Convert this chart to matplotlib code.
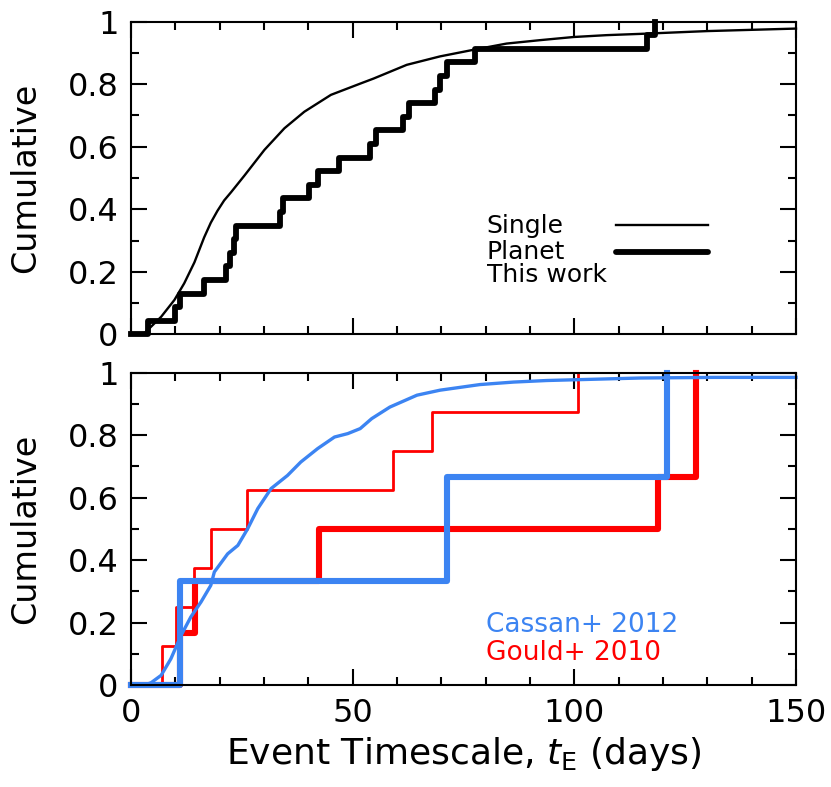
import numpy as np
import matplotlib
matplotlib.use('Agg')
import matplotlib.pyplot as plt
from matplotlib.lines import Line2D
from matplotlib.ticker import MultipleLocator, FormatStrFormatter

# Datos (tE en dias)
planet_te = [3.8, 10.0, 11.1, 16.5, 21.4, 22.4, 23.3, 23.7, 33.7, 34.2, 40.2, 42.1,
             47.0, 53.8, 55.3, 61.4, 62.6, 68.6, 69.7, 71.2, 77.6, 116.3, 118.2]

single_te = [0, 3.0, 6.8, 9.8, 12.0, 14.3, 16.5, 18.0, 19.5, 21.0, 22.6, 25.6, 30.1, 34.6, 39.1,
             45.1, 51.9, 54.7, 62.2, 69.7, 77.2, 84.7, 92.3, 99.8, 107.3, 114.8, 130.0, 150.0]
single_cum = [0, 0.003, 0.056, 0.11, 0.163, 0.23, 0.31, 0.357, 0.395, 0.428, 0.455, 0.508, 0.59, 0.659,
              0.712, 0.766, 0.803, 0.818, 0.862, 0.889, 0.91, 0.93, 0.941, 0.951, 0.957, 0.961, 0.97, 0.978]

gould_single_te = [6.9, 10.15, 14.1, 18.0, 26.1, 59.0, 67.8, 100.9]
gould_planet_te = [11.1, 14.4, 42.5, 118.9, 127.4, 127.4]
cassan_planet_te = [11.1, 71.2, 121.0]

cassan_te = [0, 3.0, 4.5, 6.8, 9.0, 11.3, 13.5, 15.8, 18.0, 18.8, 21.8, 24.1, 26.3, 28.6,
             31.6, 35.3, 38.3, 42.1, 45.9, 48.9, 51.7, 54.3, 58.4, 64.5, 69.7, 78.7, 86.3,
             93.8, 109.6, 114.9, 131.4, 150.0]
cassan_cum = [0, 0.0, 0.007, 0.031, 0.084, 0.159, 0.218, 0.266, 0.319, 0.362, 0.42, 0.447, 0.50, 0.565,
              0.629, 0.671, 0.714, 0.757, 0.794, 0.805, 0.821, 0.853, 0.89, 0.928, 0.944, 0.962, 0.97,
              0.975, 0.981, 0.983, 0.985, 0.985]

azul = '#3c84f2'
rojo = '#ff0000'

plt.rcParams['font.family'] = 'DejaVu Sans'


def escalon(te):
    # curva acumulativa en escalera
    te = np.sort(np.array(te))
    x = np.concatenate(([0.0], te))
    y = np.concatenate(([0.0], np.arange(1, len(te) + 1) / len(te)))
    return x, y


def formato_ejes(ax, etiquetas_x):
    ax.set_xlim(0, 150)
    ax.set_ylim(0, 1)
    ax.xaxis.set_major_locator(MultipleLocator(50))
    ax.xaxis.set_minor_locator(MultipleLocator(10))
    ax.yaxis.set_major_locator(MultipleLocator(0.2))
    ax.yaxis.set_minor_locator(MultipleLocator(0.1))
    ax.yaxis.set_major_formatter(FormatStrFormatter('%g'))
    ax.tick_params(which='both', direction='in', top=True, right=True, width=1.5, labelsize=23)
    ax.tick_params(which='major', length=11.5, pad=9)
    ax.tick_params(which='minor', length=6)
    if not etiquetas_x:
        ax.tick_params(labelbottom=False)
    for s in ax.spines.values():
        s.set_linewidth(1.5)
    ax.set_ylabel('Cumulative', fontsize=24, labelpad=18)


fig = plt.figure(figsize=(8.31, 7.87), dpi=100)
ax1 = fig.add_axes([131 / 831, 1 - 334.3 / 787, 665 / 831, 312.6 / 787])
ax2 = fig.add_axes([131 / 831, 1 - 685 / 787, 665 / 831, 312.3 / 787])

# Panel superior
ax1.plot(single_te, single_cum, color='black', lw=1.7, clip_on=False)
x, y = escalon(planet_te)
ax1.step(x, y, where='post', color='black', lw=4.2, clip_on=False)
formato_ejes(ax1, False)

# Leyenda del panel superior
for yy, txt in zip([0.346, 0.263, 0.19], ['Single', 'Planet', 'This work']):
    ax1.text(0.535, yy, txt, fontsize=18, va='center', transform=ax1.transAxes)
ax1.add_line(Line2D([0.73, 0.868], [0.351, 0.351], color='black', lw=1.7, transform=ax1.transAxes))
ax1.add_line(Line2D([0.73, 0.868], [0.263, 0.263], color='black', lw=4.2,
                    solid_capstyle='round', transform=ax1.transAxes))

# Panel inferior
x, y = escalon(gould_single_te)
ax2.step(x, y, where='post', color=rojo, lw=2.0, clip_on=False)
x, y = escalon(gould_planet_te)
ax2.step(x, y, where='post', color=rojo, lw=4.4, clip_on=False)
ax2.plot(cassan_te, cassan_cum, color=azul, lw=2.4, clip_on=False)
x, y = escalon(cassan_planet_te)
ax2.step(x, y, where='post', color=azul, lw=4.4, clip_on=False)
formato_ejes(ax2, True)

ax2.text(0.534, 0.192, 'Cassan+ 2012', color=azul, fontsize=19, va='center', transform=ax2.transAxes)
ax2.text(0.534, 0.104, 'Gould+ 2010', color=rojo, fontsize=19, va='center', transform=ax2.transAxes)
ax2.set_xlabel(r'Event Timescale, $t_{\rm E}$ (days)', fontsize=26, labelpad=5)

fig.savefig('out.png', dpi=100)
